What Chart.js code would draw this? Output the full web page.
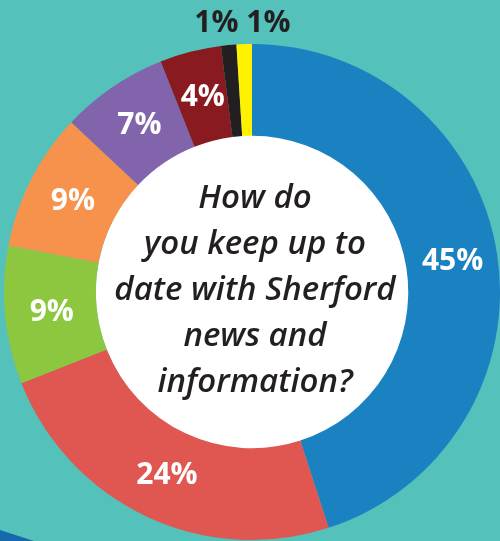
<!DOCTYPE html>
<html>
<head>
<meta charset="utf-8">
<script src="https://cdn.jsdelivr.net/npm/chart.js@4"></script>
<style>
  html, body { margin: 0; padding: 0; background: #55c1bb; }
  #wrap { width: 500px; height: 541px; position: relative; overflow: hidden; }
</style>
</head>
<body>
<div id="wrap"><canvas id="chart" width="500" height="541"></canvas></div>
<script>
// data, clockwise from 12 o'clock
const categories = ['A', 'B', 'C', 'D', 'E', 'F', 'G', 'H'];
const values = [45, 24, 9, 9, 7, 4, 1, 1];
const colors = ['#1b82c2', '#e05650', '#8dc63f', '#f7924c', '#8264ad', '#891a1f', '#231f20', '#fff200'];
const questionLines = ['How do', 'you keep up to', 'date with Sherford', 'news and', 'information?'];

// background + white centre circle
const backdrop = {
  id: 'backdrop',
  beforeDraw(chart) {
    const ctx = chart.ctx;
    ctx.save();
    ctx.fillStyle = '#55c1bb';
    ctx.fillRect(0, 0, chart.width, chart.height);
    // the dark blue stripe peeking in at the bottom left
    ctx.fillStyle = '#1769ad';
    ctx.beginPath();
    ctx.moveTo(0, 530);
    ctx.lineTo(34, 541);
    ctx.lineTo(0, 541);
    ctx.closePath();
    ctx.fill();
    ctx.restore();
  },
  beforeDatasetsDraw(chart) {
    const arc = chart.getDatasetMeta(0).data[0];
    const ctx = chart.ctx;
    ctx.save();
    ctx.fillStyle = '#ffffff';
    ctx.beginPath();
    ctx.arc(arc.x + 2, arc.y, arc.innerRadius + 2, 0, Math.PI * 2);
    ctx.fill();
    ctx.restore();
  }
};

const labelsPlugin = {
  id: 'pctLabels',
  afterDatasetsDraw(chart) {
    const ctx = chart.ctx;
    const meta = chart.getDatasetMeta(0);
    ctx.save();
    ctx.font = 'bold 30px "Open Sans"';
    ctx.textAlign = 'center';
    ctx.textBaseline = 'middle';
    const outside = [];
    meta.data.forEach((arc, i) => {
      const txt = values[i] + '%';
      const mid = (arc.startAngle + arc.endAngle) / 2;
      if (values[i] <= 1) {
        outside.push({ txt, mid, arc });
        return;
      }
      const r = (arc.innerRadius + arc.outerRadius) / 2;
      ctx.fillStyle = '#ffffff';
      ctx.fillText(txt, arc.x + Math.cos(mid) * r + 1, arc.y + Math.sin(mid) * r + 1);
    });
    // tiny slices: labels above the ring, spread apart
    if (outside.length) {
      const a0 = outside[0].arc;
      const meanX = outside.reduce((s, o) => s + a0.x + Math.cos(o.mid) * a0.outerRadius, 0) / outside.length + 6;
      const step = 52;
      ctx.fillStyle = '#231f20';
      outside.forEach((o, k) => {
        const x = meanX + (k - (outside.length - 1) / 2) * step;
        ctx.fillText(o.txt, x, a0.y - a0.outerRadius - 21);
      });
    }
    // question in the middle
    const a = meta.data[0];
    ctx.fillStyle = '#231f20';
    ctx.font = 'italic 600 33px "Open Sans"';
    const lh = 46;
    questionLines.forEach((line, i) => {
      ctx.fillText(line, a.x + 3, a.y - 1 + (i - (questionLines.length - 1) / 2) * lh);
    });
    ctx.restore();
  }
};

new Chart(document.getElementById('chart'), {
  type: 'doughnut',
  data: {
    labels: categories,
    datasets: [{
      data: values,
      backgroundColor: colors,
      borderWidth: 0
    }]
  },
  options: {
    responsive: false,
    animation: false,
    cutout: '63%',
    layout: { padding: { top: 44, bottom: 1, left: 4, right: 0 } },
    plugins: {
      legend: { display: false },
      tooltip: { enabled: false }
    }
  },
  plugins: [backdrop, labelsPlugin]
});
</script>
</body>
</html>
